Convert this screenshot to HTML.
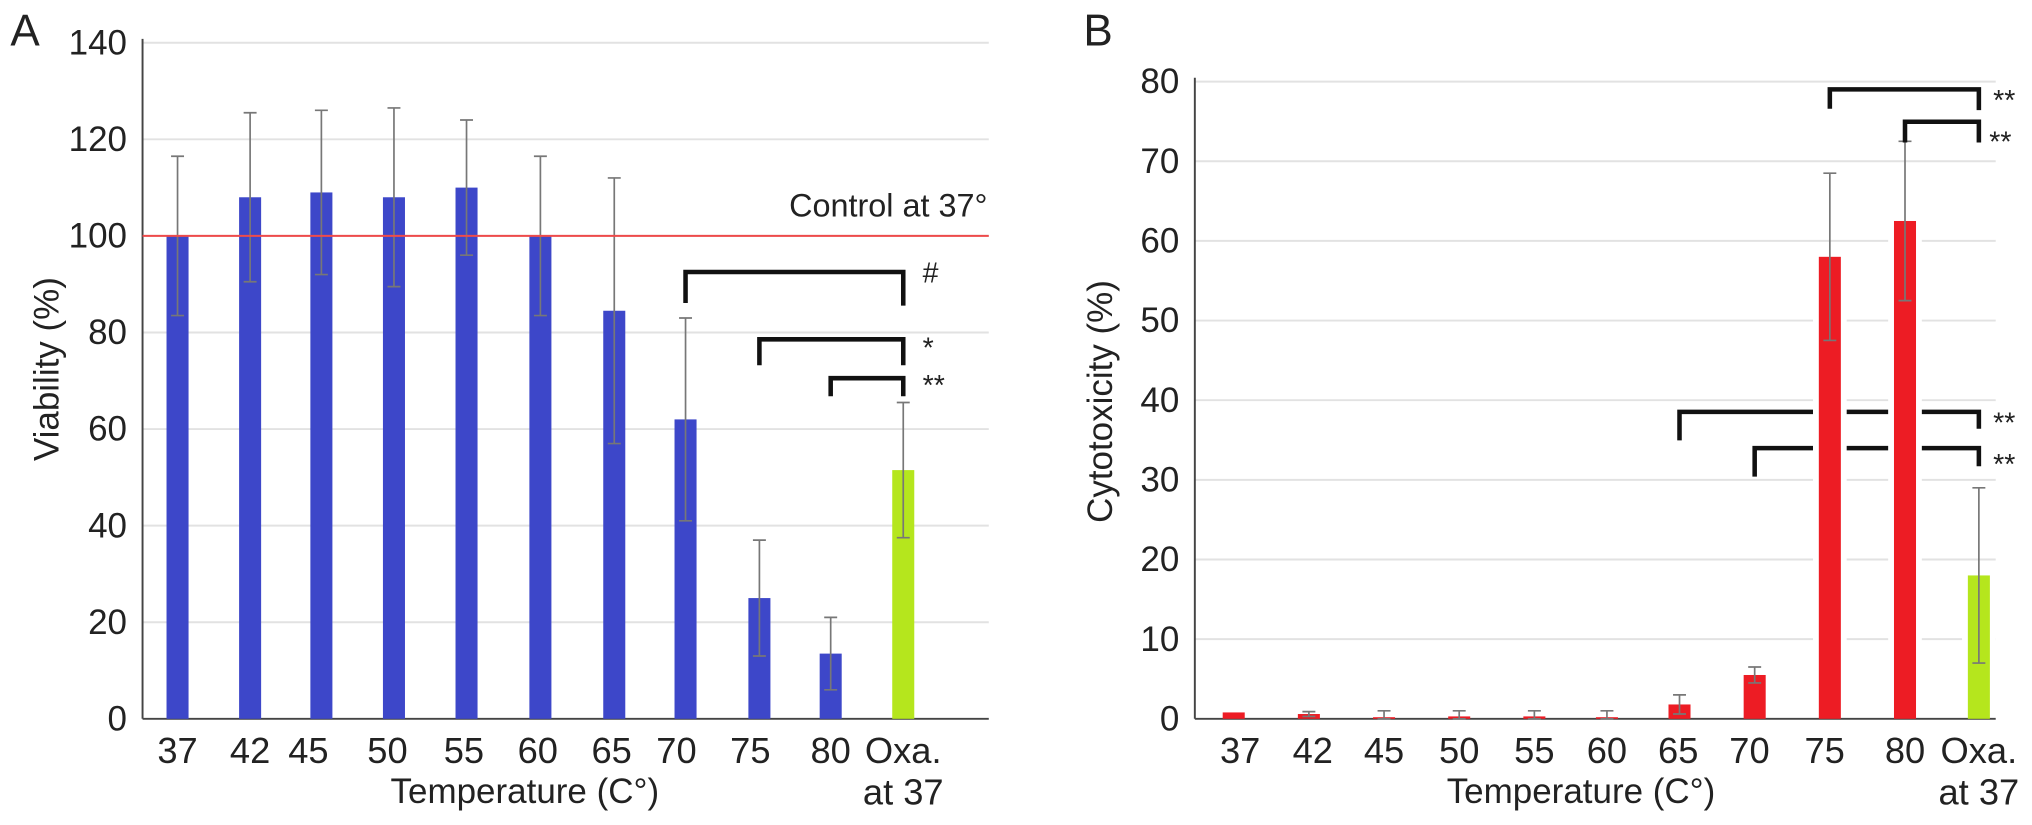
<!DOCTYPE html>
<html><head><meta charset="utf-8"><style>
html,body{margin:0;padding:0;background:#fff;}
svg{display:block;font-family:"Liberation Sans",Arial,sans-serif;}
</style></head><body>
<svg id="chart" width="2032" height="825" viewBox="0 0 1568 637" preserveAspectRatio="none"></svg>
<script>
const catsA = ["37","42","45","50","55","60","65","70","75","80","Oxa."];
const valsA = [100,108,109,108,110,100,84.5,62,25,13.5,51.5];
const errA = [16.5,17.5,17,18.5,14,16.5,27.5,21,12,7.5,14];
const ticksA = [0,20,40,60,80,100,120,140];
const catsB = ["37","42","45","50","55","60","65","70","75","80","Oxa."];
const valsB = [0.8,0.6,0.2,0.3,0.3,0.2,1.8,5.5,58,62.5,18];
const errB = [0,0.3,0.8,0.7,0.7,0.8,1.2,1,10.5,10,11];
const ticksB = [0,10,20,30,40,50,60,70,80];

const NS="http://www.w3.org/2000/svg";
const svg=document.getElementById('chart');
function el(tag,attrs,parent){const e=document.createElementNS(NS,tag);for(const k in attrs)e.setAttribute(k,attrs[k]);(parent||svg).appendChild(e);return e;}
function txt(s,x,y,size,anchor,name,extra){const t=el('text',Object.assign({x:x,y:y,'font-size':size,'text-anchor':anchor||'start',fill:'#222'},extra||{}));t.textContent=s;


return t;}

function panel(p){
  const yS=v=>p.y0-(v/p.ymax)*(p.y0-p.ytop);
  const xS=i=>p.xs[i];
  p.ticks.forEach(t=>{
    if(t>0){const g=el('line',{x1:p.ax,x2:p.right,y1:yS(t),y2:yS(t),stroke:'#e2e2e2','stroke-width':1.5});
    
    }
    txt(String(t),p.ax-12,yS(t)+9,27,'end','y-tick-label');
  });
  const ya=el('line',{x1:p.ax,x2:p.ax,y1:p.ytop-3,y2:p.y0,stroke:'#444','stroke-width':1.5});
  
  
  const xa=el('line',{x1:p.ax,x2:p.right,y1:p.y0,y2:p.y0,stroke:'#444','stroke-width':1.5});
  
  
  if(p.pre)p.pre(yS,xS);
  p.vals.forEach((v,i)=>{
    const x=xS(i);
    if(p.mask){const m=el('rect',{x:x-13,y:yS(v)-1,width:26,height:p.y0-yS(v),fill:'#fff'});
      
      }
    const b=el('rect',{x:x-8.5,y:yS(v),width:17,height:p.y0-yS(v),fill:i===p.vals.length-1?'#b5e61d':p.color});
    
    
    const e=p.err[i];
    if(e>0){
      const lo=Math.min(p.y0,yS(v-e)),hi=yS(v+e);
      const eb=el('path',{d:`M${x},${lo}V${hi}M${x-5},${hi}H${x+5}M${x-5},${lo}H${x+5}`,stroke:'#777','stroke-width':1.3,fill:'none'});
      
      
    }
    if(i<p.cats.length-1) txt(p.cats[i],x+(p.lx?p.lx[i]:0),589,28,'middle','x-tick-label');
    else {txt('Oxa.',x,589,28,'middle','x-tick-label');txt('at 37',x,621,28,'middle','x-tick-label');}
  });
  if(p.post)p.post(yS,xS);
}
function bracket(x1,x2,y,l1,l2,name){
  const b=el('path',{d:`M${x1},${l1}V${y}H${x2}V${l2}`,stroke:'#111','stroke-width':3.5,fill:'none'});
  
  
}
// Panel A
panel({ax:110,right:763,y0:555,ytop:33,ymax:140,ticks:ticksA,vals:valsA,err:errA,cats:catsA,color:'#3d47c9',
  xs:[137,193,248,304,360,417,474,529,586,641,697],
  lx:[0,0,-10,-5,-2,-2,-2,-7,-7,0,0],
  post:(yS,xS)=>{
    const r=el('line',{x1:110,x2:763,y1:yS(100),y2:yS(100),stroke:'#ee4b4b','stroke-width':1.5});
    
    
    txt('Control at 37°',762,167,25,'end','control-label');
    bracket(xS(7),xS(10),210,234,236,'bracket-70-oxa');
    txt('#',712,218,22,'start','sig-hash');
    bracket(xS(8),xS(10),262,282,282,'bracket-75-oxa');
    txt('*',712,276,22,'start','sig-star');
    bracket(xS(9),xS(10),292,306,306,'bracket-80-oxa');
    txt('**',712,305,22,'start','sig-double-star');
  }});
txt('A',8,35,34,'start','panel-label-a');
txt('Temperature (C°)',405,620,27,'middle','x-axis-title-a');
txt('Viability (%)',45,285,27,'middle','y-axis-title-a',{transform:'rotate(-90 45 285)'});
// Panel B
panel({ax:922,right:1540,y0:555,ytop:63,ymax:80,ticks:ticksB,vals:valsB,err:errB,cats:catsB,color:'#ed1c24',mask:true,
  xs:[952,1010,1068,1126,1184,1240,1296,1354,1412,1470,1527],
  lx:[5,3,0,0,0,0,-1,-4,-4,0,0],
  pre:(yS,xS)=>{
    bracket(xS(6),xS(10),318,340,331,'bracket-65-oxa');
    bracket(xS(7),xS(10),346,368,360,'bracket-70-oxa-b');
  },
  post:(yS,xS)=>{
    bracket(xS(8),xS(10),69,84,85,'bracket-75-oxa-b');
    bracket(xS(9),xS(10),94,110,110,'bracket-80-oxa-b');
    txt('**',1538,85,22,'start','sig-1');
    txt('**',1535,117,22,'start','sig-2');
    txt('**',1538,334,22,'start','sig-3');
    txt('**',1538,366,22,'start','sig-4');
  }});
txt('B',836,35,34,'start','panel-label-b');
txt('Temperature (C°)',1220,620,27,'middle','x-axis-title-b');
txt('Cytotoxicity (%)',858,310,27,'middle','y-axis-title-b',{transform:'rotate(-90 858 310)'});
</script>
</body></html>
